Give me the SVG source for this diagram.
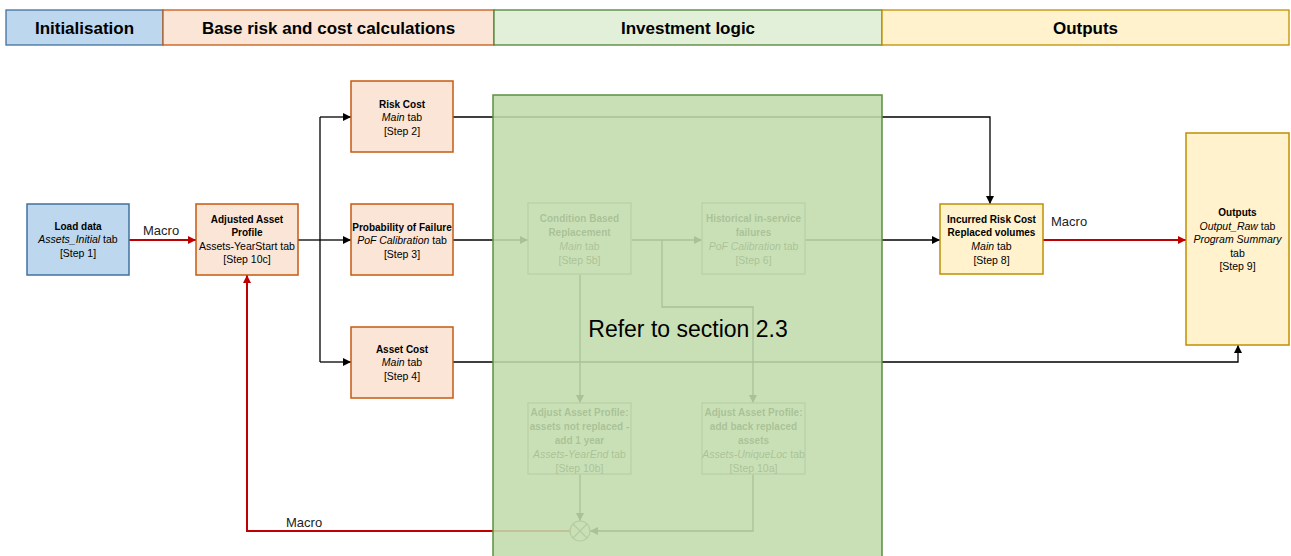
<svg xmlns="http://www.w3.org/2000/svg" width="1291" height="556" viewBox="0 0 1291 556">
  <defs>
    <marker id="arrow-black" markerUnits="userSpaceOnUse" markerWidth="9" markerHeight="8" refX="8" refY="4" orient="auto">
      <path d="M0,0 L8,4 L0,8 z" fill="#000"/>
    </marker>
    <marker id="arrow-red" markerUnits="userSpaceOnUse" markerWidth="9" markerHeight="8" refX="8" refY="4" orient="auto">
      <path d="M0,0 L8,4 L0,8 z" fill="#c00000"/>
    </marker>
    <style>
      text { font-family: "Liberation Sans", Arial, sans-serif; fill: #000; }
      .hdr { font-size: 17px; font-weight: bold; text-anchor: middle; }
      .t { font-size: 10.5px; text-anchor: middle; }
      .b { font-weight: bold; font-size: 10px; }
      .i { font-style: italic; }
      .lbl { font-size: 13px; fill: #222; }
      .node { stroke-width: 1.5; }
      .blue { fill: #bdd7ee; stroke: #41719c; }
      .orange { fill: #fbe5d6; stroke: #c55a11; }
      .yellow { fill: #fff2cc; stroke: #bf9000; }
      .plain { fill: #fff; stroke: #8c8c8c; }
      .wire { fill: none; stroke: #000; stroke-width: 1.3; }
      .wire-red { fill: none; stroke: #c00000; stroke-width: 2; }
    </style>
  </defs>

  <!-- phase headers -->
  <g id="headers">
    <rect x="6" y="10" width="157" height="35" fill="#bdd7ee" stroke="#41719c" stroke-width="1.3"/>
    <text class="hdr" x="84.5" y="34">Initialisation</text>
    <rect x="163" y="10" width="331" height="35" fill="#fbe5d6" stroke="#c55a11" stroke-width="1.3"/>
    <text class="hdr" x="328.5" y="34">Base risk and cost calculations</text>
    <rect x="494" y="10" width="388" height="35" fill="#e2f0d9" stroke="#548235" stroke-width="1.3"/>
    <text class="hdr" x="688" y="34">Investment logic</text>
    <rect x="882" y="10" width="407" height="35" fill="#fff2cc" stroke="#bf9000" stroke-width="1.3"/>
    <text class="hdr" x="1085.5" y="34">Outputs</text>
  </g>

  <!-- connectors -->
  <g id="connectors">
    <path class="wire-red" d="M129,240 H196" marker-end="url(#arrow-red)"/>
    <path class="wire" d="M298,240 H320"/>
    <path class="wire" d="M320,117 V362"/>
    <path class="wire" d="M320,117 H351" marker-end="url(#arrow-black)"/>
    <path class="wire" d="M320,240 H351" marker-end="url(#arrow-black)"/>
    <path class="wire" d="M320,362 H351" marker-end="url(#arrow-black)"/>
    <path class="wire" d="M453,117 H990 V204" marker-end="url(#arrow-black)"/>
    <path class="wire" d="M453,240 H528" marker-end="url(#arrow-black)"/>
    <path class="wire" d="M631,240 H702" marker-end="url(#arrow-black)"/>
    <path class="wire" d="M662,240 V307 H753 V403" marker-end="url(#arrow-black)"/>
    <path class="wire" d="M580,274 V403" marker-end="url(#arrow-black)"/>
    <path class="wire" d="M805,240 H940" marker-end="url(#arrow-black)"/>
    <path class="wire" d="M453,362 H1238 V345" marker-end="url(#arrow-black)"/>
    <path class="wire" d="M580,474 V521" marker-end="url(#arrow-black)"/>
    <path class="wire" d="M753,474 V531 H590" marker-end="url(#arrow-black)"/>
    <path class="wire-red" d="M570,531 H247 V275" marker-end="url(#arrow-red)"/>
    <path class="wire-red" d="M1043,240 H1186" marker-end="url(#arrow-red)"/>
    <text class="lbl" x="143" y="234.5">Macro</text>
    <text class="lbl" x="1051" y="225.5">Macro</text>
    <text class="lbl" x="286" y="526.5">Macro</text>
  </g>

  <g id="load-data">
    <rect class="node blue" x="27" y="204" width="102" height="71"/>
    <text class="t" x="78" y="229.5"><tspan class="b">Load data</tspan></text>
    <text class="t" x="78" y="243"><tspan class="i">Assets_Initial</tspan> tab</text>
    <text class="t" x="78" y="256.5">[Step 1]</text>
  </g>

  <g id="adjusted-asset-profile">
    <rect class="node orange" x="196" y="204" width="102" height="71"/>
    <text class="t" x="247" y="222.5"><tspan class="b">Adjusted Asset</tspan></text>
    <text class="t" x="247" y="236"><tspan class="b">Profile</tspan></text>
    <text class="t" x="247" y="249.5">Assets-YearStart tab</text>
    <text class="t" x="247" y="263">[Step 10c]</text>
  </g>

  <g id="risk-cost">
    <rect class="node orange" x="351" y="81" width="102" height="71"/>
    <text class="t" x="402" y="107.5"><tspan class="b">Risk Cost</tspan></text>
    <text class="t" x="402" y="121"><tspan class="i">Main</tspan> tab</text>
    <text class="t" x="402" y="134.5">[Step 2]</text>
  </g>

  <g id="probability-of-failure">
    <rect class="node orange" x="351" y="204" width="102" height="71"/>
    <text class="t" x="402" y="230.5"><tspan class="b">Probability of Failure</tspan></text>
    <text class="t" x="402" y="244"><tspan class="i">PoF Calibration</tspan> tab</text>
    <text class="t" x="402" y="257.5">[Step 3]</text>
  </g>

  <g id="asset-cost">
    <rect class="node orange" x="351" y="327" width="102" height="71"/>
    <text class="t" x="402" y="352.5"><tspan class="b">Asset Cost</tspan></text>
    <text class="t" x="402" y="366"><tspan class="i">Main</tspan> tab</text>
    <text class="t" x="402" y="379.5">[Step 4]</text>
  </g>

  <g id="condition-based-replacement">
    <rect class="node plain" x="528" y="203" width="103" height="71"/>
    <text class="t" x="579.5" y="221.5"><tspan class="b">Condition Based</tspan></text>
    <text class="t" x="579.5" y="235.5"><tspan class="b">Replacement</tspan></text>
    <text class="t" x="579.5" y="249.5"><tspan class="i">Main</tspan> tab</text>
    <text class="t" x="579.5" y="263.5">[Step 5b]</text>
  </g>

  <g id="historical-failures">
    <rect class="node plain" x="702" y="203" width="103" height="71"/>
    <text class="t" x="753.5" y="221.5"><tspan class="b">Historical in-service</tspan></text>
    <text class="t" x="753.5" y="235.5"><tspan class="b">failures</tspan></text>
    <text class="t" x="753.5" y="249.5"><tspan class="i">PoF Calibration</tspan> tab</text>
    <text class="t" x="753.5" y="263.5">[Step 6]</text>
  </g>

  <g id="adjust-not-replaced">
    <rect class="node plain" x="528" y="403" width="103" height="71"/>
    <text class="t" x="579.5" y="415.5"><tspan class="b">Adjust Asset Profile:</tspan></text>
    <text class="t" x="579.5" y="429.5"><tspan class="b">assets not replaced -</tspan></text>
    <text class="t" x="579.5" y="443.5"><tspan class="b">add 1 year</tspan></text>
    <text class="t" x="579.5" y="457.5"><tspan class="i">Assets-YearEnd</tspan> tab</text>
    <text class="t" x="579.5" y="471.5">[Step 10b]</text>
  </g>

  <g id="adjust-add-back">
    <rect class="node plain" x="702" y="403" width="103" height="71"/>
    <text class="t" x="753.5" y="415.5"><tspan class="b">Adjust Asset Profile:</tspan></text>
    <text class="t" x="753.5" y="429.5"><tspan class="b">add back replaced</tspan></text>
    <text class="t" x="753.5" y="443.5"><tspan class="b">assets</tspan></text>
    <text class="t" x="753.5" y="457.5"><tspan class="i">Assets-UniqueLoc</tspan> tab</text>
    <text class="t" x="753.5" y="471.5">[Step 10a]</text>
  </g>

  <g id="merge-junction">
    <circle cx="580" cy="531" r="10" fill="#fff" stroke="#555" stroke-width="1.2"/>
    <path d="M573,524 L587,538 M587,524 L573,538" stroke="#555" stroke-width="1.2"/>
  </g>

  <g id="incurred-risk-cost">
    <rect class="node yellow" x="940" y="204" width="103" height="70"/>
    <text class="t" x="991.5" y="222.5"><tspan class="b">Incurred Risk Cost</tspan></text>
    <text class="t" x="991.5" y="236"><tspan class="b">Replaced volumes</tspan></text>
    <text class="t" x="991.5" y="249.5"><tspan class="i">Main</tspan> tab</text>
    <text class="t" x="991.5" y="263.5">[Step 8]</text>
  </g>

  <g id="outputs">
    <rect class="node yellow" x="1186" y="133" width="103" height="212"/>
    <text class="t" x="1237.5" y="215.5"><tspan class="b">Outputs</tspan></text>
    <text class="t" x="1237.5" y="229.5"><tspan class="i">Output_Raw</tspan> tab</text>
    <text class="t" x="1237.5" y="243"><tspan class="i">Program Summary</tspan></text>
    <text class="t" x="1237.5" y="256.5">tab</text>
    <text class="t" x="1237.5" y="270">[Step 9]</text>
  </g>

  <!-- translucent investment-logic panel over its detail -->
  <g id="investment-logic-panel">
    <rect x="493" y="95" width="389" height="470" fill="#c2dcac" fill-opacity="0.88"/>
    <rect x="493" y="95" width="389" height="470" fill="none" stroke="#5e8f3e" stroke-width="1.5"/>
    <text x="688" y="337" font-family="Liberation Sans, Arial, sans-serif" font-size="23" text-anchor="middle" fill="#2b2b2b">Refer to section 2.3</text>
  </g>
</svg>
